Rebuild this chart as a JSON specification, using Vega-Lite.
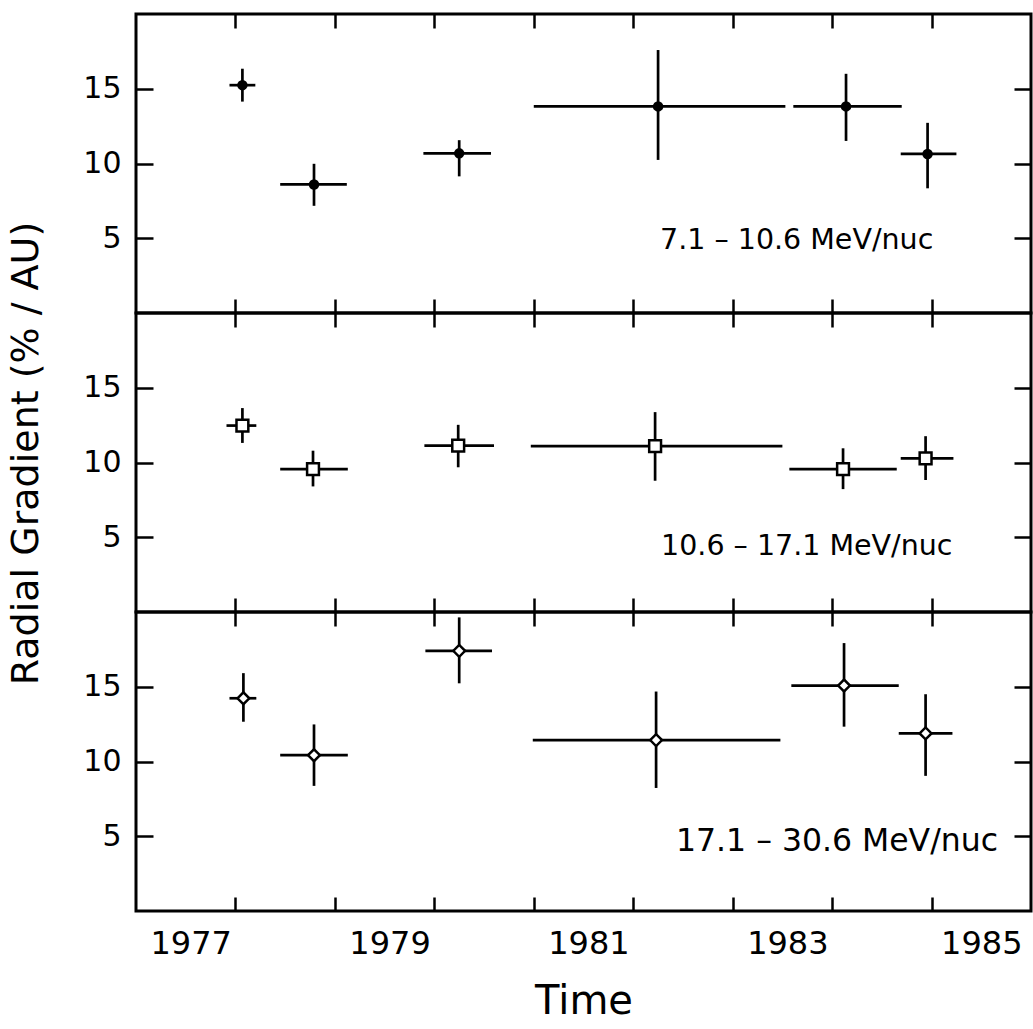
{
  "$schema": "https://vega.github.io/schema/vega-lite/v6.json",
  "background": "white",
  "padding": {"left": 5, "top": 11, "right": 0, "bottom": 0},
  "spacing": 0,
  "bounds": "flush",
  "config": {
    "view": {"stroke": "black", "strokeWidth": 3},
    "font": "DejaVu Sans",
    "axis": {"grid": false, "domain": false, "tickColor": "black", "tickWidth": 2.5, "labelColor": "black", "titleColor": "black", "labelFont": "DejaVu Sans", "titleFont": "DejaVu Sans", "titleFontWeight": "normal", "labelFlush": false, "labelOverlap": false}
  },
  "datasets": {
    "pts": [
      {"p": 1, "t": 1978.07, "t0": 1977.94, "t1": 1978.20, "v": 15.24, "v0": 14.14, "v1": 16.34},
      {"p": 1, "t": 1978.79, "t0": 1978.45, "t1": 1979.12, "v": 8.6, "v0": 7.17, "v1": 9.98},
      {"p": 1, "t": 1980.25, "t0": 1979.89, "t1": 1980.57, "v": 10.68, "v0": 9.14, "v1": 11.56},
      {"p": 1, "t": 1982.25, "t0": 1981.0, "t1": 1983.53, "v": 13.82, "v0": 10.24, "v1": 17.59},
      {"p": 1, "t": 1984.14, "t0": 1983.61, "t1": 1984.70, "v": 13.82, "v0": 11.51, "v1": 16.0},
      {"p": 1, "t": 1984.96, "t0": 1984.69, "t1": 1985.25, "v": 10.64, "v0": 8.34, "v1": 12.72},
      {"p": 2, "t": 1978.07, "t0": 1977.91, "t1": 1978.21, "v": 12.47, "v0": 11.31, "v1": 13.64},
      {"p": 2, "t": 1978.78, "t0": 1978.45, "t1": 1979.13, "v": 9.56, "v0": 8.40, "v1": 10.79},
      {"p": 2, "t": 1980.24, "t0": 1979.90, "t1": 1980.60, "v": 11.13, "v0": 9.68, "v1": 12.52},
      {"p": 2, "t": 1982.22, "t0": 1980.97, "t1": 1983.50, "v": 11.09, "v0": 8.78, "v1": 13.37},
      {"p": 2, "t": 1984.11, "t0": 1983.57, "t1": 1984.65, "v": 9.56, "v0": 8.22, "v1": 10.95},
      {"p": 2, "t": 1984.94, "t0": 1984.69, "t1": 1985.22, "v": 10.28, "v0": 8.83, "v1": 11.76},
      {"p": 3, "t": 1978.08, "t0": 1977.94, "t1": 1978.21, "v": 14.23, "v0": 12.66, "v1": 15.91},
      {"p": 3, "t": 1978.79, "t0": 1978.45, "t1": 1979.13, "v": 10.42, "v0": 8.37, "v1": 12.48},
      {"p": 3, "t": 1980.25, "t0": 1979.91, "t1": 1980.58, "v": 17.40, "v0": 15.23, "v1": 19.64},
      {"p": 3, "t": 1982.23, "t0": 1980.99, "t1": 1983.48, "v": 11.43, "v0": 8.23, "v1": 14.68},
      {"p": 3, "t": 1984.12, "t0": 1983.59, "t1": 1984.67, "v": 15.08, "v0": 12.33, "v1": 17.92},
      {"p": 3, "t": 1984.94, "t0": 1984.67, "t1": 1985.21, "v": 11.88, "v0": 9.04, "v1": 14.5}
    ],
    "labs": [
      {"p": 1, "t": 1982.27, "v": 4.9, "label": "7.1 – 10.6 MeV/nuc"},
      {"p": 2, "t": 1982.28, "v": 4.4, "label": "10.6 – 17.1 MeV/nuc"},
      {"p": 3, "t": 1982.43, "v": 4.6, "label": "17.1 – 30.6 MeV/nuc"}
    ]
  },
  "vconcat": [
    {
      "width": 895, "height": 299,
      "resolve": {"axis": {"x": "independent", "y": "independent"}},
      "layer": [
        {
          "data": {"name": "pts"}, "transform": [{"filter": "datum.p == 1"}],
          "mark": {"type": "rule", "strokeWidth": 2.7, "color": "black"},
          "encoding": {
            "x": {"field": "t0", "type": "quantitative", "scale": {"domain": [1977, 1986], "nice": false, "zero": false},
                  "axis": {"orient": "top", "values": [1978, 1979, 1980, 1981, 1982, 1983, 1984, 1985], "tickSize": -14, "labels": false, "title": null}},
            "x2": {"field": "t1"},
            "y": {"field": "v", "type": "quantitative", "scale": {"domain": [0, 20], "nice": false},
                  "axis": {"orient": "left", "values": [5, 10, 15], "tickSize": -17, "labelFontSize": 30, "labelPadding": 32, "title": null}}
          }
        },
        {
          "data": {"name": "pts"}, "transform": [{"filter": "datum.p == 1"}],
          "mark": {"type": "rule", "strokeWidth": 2.7, "color": "black"},
          "encoding": {
            "x": {"field": "t", "type": "quantitative", "scale": {"domain": [1977, 1986], "nice": false, "zero": false},
                  "axis": {"orient": "bottom", "values": [1978, 1979, 1980, 1981, 1982, 1983, 1984, 1985], "tickSize": -14, "labels": false, "title": null}},
            "y": {"field": "v0", "type": "quantitative", "scale": {"domain": [0, 20], "nice": false},
                  "axis": {"orient": "right", "values": [5, 10, 15], "tickSize": -17, "labels": false, "title": null}},
            "y2": {"field": "v1"}
          }
        },
        {
          "data": {"name": "pts"}, "transform": [{"filter": "datum.p == 1"}],
          "mark": {"type": "point", "shape": "circle", "filled": true, "size": 110, "color": "black", "opacity": 1},
          "encoding": {
            "x": {"field": "t", "type": "quantitative", "axis": null},
            "y": {"field": "v", "type": "quantitative", "axis": null}
          }
        },
        {
          "data": {"name": "labs"}, "transform": [{"filter": "datum.p == 1"}],
          "mark": {"type": "text", "align": "left", "baseline": "middle", "fontSize": 28.5, "font": "DejaVu Sans", "color": "black"},
          "encoding": {
            "x": {"field": "t", "type": "quantitative", "axis": null},
            "y": {"field": "v", "type": "quantitative", "axis": null},
            "text": {"field": "label"}
          }
        }
      ]
    },
    {
      "width": 895, "height": 299,
      "resolve": {"axis": {"x": "independent", "y": "independent"}},
      "layer": [
        {
          "data": {"name": "pts"}, "transform": [{"filter": "datum.p == 2"}],
          "mark": {"type": "rule", "strokeWidth": 2.7, "color": "black"},
          "encoding": {
            "x": {"field": "t0", "type": "quantitative", "scale": {"domain": [1977, 1986], "nice": false, "zero": false},
                  "axis": {"orient": "top", "values": [1978, 1979, 1980, 1981, 1982, 1983, 1984, 1985], "tickSize": -14, "labels": false, "title": null}},
            "x2": {"field": "t1"},
            "y": {"field": "v", "type": "quantitative", "scale": {"domain": [0, 20], "nice": false},
                  "axis": {"orient": "left", "values": [5, 10, 15], "tickSize": -17, "labelFontSize": 30, "labelPadding": 32,
                           "title": "Radial Gradient (% / AU)", "titleFontSize": 38, "titleAngle": -90, "titleAlign": "center", "titleBaseline": "middle", "titleX": -110, "titleY": 140}}
          }
        },
        {
          "data": {"name": "pts"}, "transform": [{"filter": "datum.p == 2"}],
          "mark": {"type": "rule", "strokeWidth": 2.7, "color": "black"},
          "encoding": {
            "x": {"field": "t", "type": "quantitative", "scale": {"domain": [1977, 1986], "nice": false, "zero": false},
                  "axis": {"orient": "bottom", "values": [1978, 1979, 1980, 1981, 1982, 1983, 1984, 1985], "tickSize": -14, "labels": false, "title": null}},
            "y": {"field": "v0", "type": "quantitative", "scale": {"domain": [0, 20], "nice": false},
                  "axis": {"orient": "right", "values": [5, 10, 15], "tickSize": -17, "labels": false, "title": null}},
            "y2": {"field": "v1"}
          }
        },
        {
          "data": {"name": "pts"}, "transform": [{"filter": "datum.p == 2"}],
          "mark": {"type": "point", "shape": "square", "filled": true, "fill": "white", "stroke": "black", "strokeWidth": 2.5, "size": 140, "opacity": 1},
          "encoding": {
            "x": {"field": "t", "type": "quantitative", "axis": null},
            "y": {"field": "v", "type": "quantitative", "axis": null}
          }
        },
        {
          "data": {"name": "labs"}, "transform": [{"filter": "datum.p == 2"}],
          "mark": {"type": "text", "align": "left", "baseline": "middle", "fontSize": 28.5, "font": "DejaVu Sans", "color": "black"},
          "encoding": {
            "x": {"field": "t", "type": "quantitative", "axis": null},
            "y": {"field": "v", "type": "quantitative", "axis": null},
            "text": {"field": "label"}
          }
        }
      ]
    },
    {
      "width": 895, "height": 299,
      "resolve": {"axis": {"x": "independent", "y": "independent"}},
      "layer": [
        {
          "data": {"name": "pts"}, "transform": [{"filter": "datum.p == 3"}],
          "mark": {"type": "rule", "strokeWidth": 2.7, "color": "black"},
          "encoding": {
            "x": {"field": "t0", "type": "quantitative", "scale": {"domain": [1977, 1986], "nice": false, "zero": false},
                  "axis": {"orient": "top", "values": [1978, 1979, 1980, 1981, 1982, 1983, 1984, 1985], "tickSize": -14, "labels": false, "title": null}},
            "x2": {"field": "t1"},
            "y": {"field": "v", "type": "quantitative", "scale": {"domain": [0, 20], "nice": false},
                  "axis": {"orient": "left", "values": [5, 10, 15], "tickSize": -17, "labelFontSize": 30, "labelPadding": 32, "title": null}}
          }
        },
        {
          "data": {"name": "pts"}, "transform": [{"filter": "datum.p == 3"}],
          "mark": {"type": "rule", "strokeWidth": 2.7, "color": "black"},
          "encoding": {
            "x": {"field": "t", "type": "quantitative", "scale": {"domain": [1977, 1986], "nice": false, "zero": false},
                  "axis": {"orient": "bottom", "values": [1978, 1979, 1980, 1981, 1982, 1983, 1984, 1985], "tickSize": -14, "labels": false, "title": null}},
            "y": {"field": "v0", "type": "quantitative", "scale": {"domain": [0, 20], "nice": false},
                  "axis": {"orient": "right", "values": [5, 10, 15], "tickSize": -17, "labels": false, "title": null}},
            "y2": {"field": "v1"}
          }
        },
        {
          "data": {"name": "pts"}, "transform": [{"filter": "datum.p == 3"}],
          "mark": {"type": "point", "shape": "diamond", "filled": true, "fill": "white", "stroke": "black", "strokeWidth": 2.5, "size": 140, "opacity": 1},
          "encoding": {
            "x": {"field": "t", "type": "quantitative",
                  "axis": {"orient": "bottom", "values": [1977.55, 1979.55, 1981.55, 1983.55, 1985.5], "ticks": false, "labelExpr": "'' + floor(datum.value)", "labelFontSize": 32, "labelPadding": 17, "title": "Time", "titleFontSize": 40, "titlePadding": 22}},
            "y": {"field": "v", "type": "quantitative", "axis": null}
          }
        },
        {
          "data": {"name": "labs"}, "transform": [{"filter": "datum.p == 3"}],
          "mark": {"type": "text", "align": "left", "baseline": "middle", "fontSize": 31.5, "font": "DejaVu Sans", "color": "black"},
          "encoding": {
            "x": {"field": "t", "type": "quantitative", "axis": null},
            "y": {"field": "v", "type": "quantitative", "axis": null},
            "text": {"field": "label"}
          }
        }
      ]
    }
  ]
}
